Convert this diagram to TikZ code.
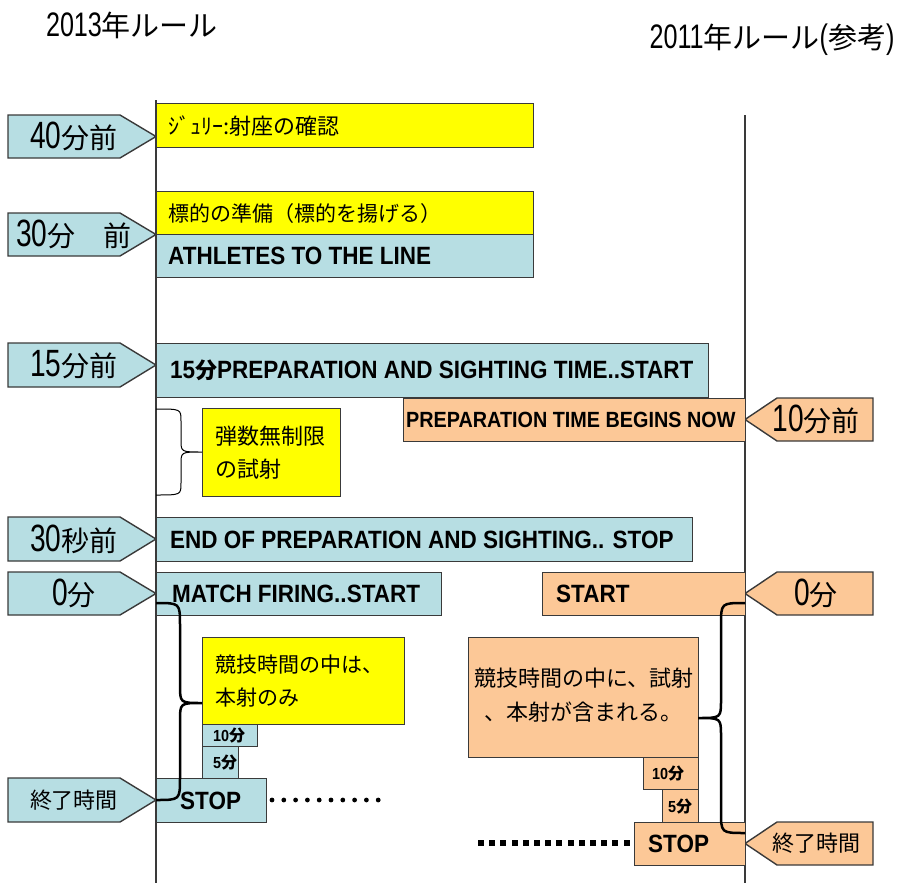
\documentclass[tikz,border=0pt]{standalone}
\usepackage{fontspec}
\setmainfont{Liberation Sans}[FakeStretch=0.9]
\newfontfamily\tallnum{Liberation Sans}[FakeStretch=0.74]
\newfontfamily\jp{Noto Sans CJK JP}
\usetikzlibrary{positioning}

\definecolor{lineblue}{HTML}{B7DEE3}
\definecolor{lineyellow}{HTML}{FFFF00}
\definecolor{lineorange}{HTML}{FCC897}
\definecolor{edge}{HTML}{3A3A3A}

% digits narrow and tall, kanji a bit smaller
\newcommand\numjp[2]{{\tallnum\fontsize{38}{38}\selectfont #1}{\jp\fontsize{28}{28}\selectfont #2}}

\tikzset{
  boxline/.style={draw=edge, line width=1.4pt, inner sep=0pt, anchor=north west},
  bluebox/.style={boxline, fill=lineblue},
  yellowbox/.style={boxline, fill=lineyellow},
  orangebox/.style={boxline, fill=lineorange},
  entext/.style={inner sep=0pt, font=\fontsize{25}{25}\selectfont\bfseries},
  jatext/.style={inner sep=0pt, font=\jp\fontsize{22}{33}\selectfont, align=left},
  tinyen/.style={inner sep=0pt, font=\fontsize{16}{16}\selectfont\bfseries},
  tagtext/.style={inner sep=0pt},
}

\newcommand\lefttag[4]{%
  \draw[draw=edge, line width=1.4pt, fill=lineblue]
    (8,#2) -- (120,#2) -- (156,{(#2+#3)/2}) -- (120,#3) -- (8,#3) -- cycle;
  \node[tagtext] (#1) at (74,{(#2+#3)/2}) {#4};}
\newcommand\righttag[4]{%
  \draw[draw=edge, line width=1.4pt, fill=lineorange]
    (873,#2) -- (777,#2) -- (745,{(#2+#3)/2}) -- (777,#3) -- (873,#3) -- cycle;
  \node[tagtext] (#1) at (816,{(#2+#3)/2}) {#4};}

\begin{document}
\begin{tikzpicture}[x=1pt,y=-1pt]
\useasboundingbox (0,0) rectangle (908,883);

% titles
\node (t13) at (132,25) {{\tallnum\fontsize{34}{34}\selectfont 2013}{\jp\fontsize{29}{29}\selectfont 年ルール}};
\node (t11) at (772,40) {{\tallnum\fontsize{34}{34}\selectfont 2011}{\jp\fontsize{29}{29}\selectfont 年ルール}{\tallnum\fontsize{34}{34}\selectfont (}{\jp\fontsize{29}{29}\selectfont 参考}{\tallnum\fontsize{34}{34}\selectfont )}};

% time axes
\coordinate (newtop) at (156,100);
\coordinate (newbot) at (156,883);
\coordinate (oldtop) at (745,115);
\coordinate (oldbot) at (745,883);
\draw[draw=edge, line width=1.5pt] (newtop) -- (newbot);
\draw[draw=edge, line width=1.5pt] (oldtop) -- (oldbot);

% 2013 rule
\lefttag{m40}{115}{158}{\numjp{40}{分前}}
\lefttag{m30}{213}{256}{\numjp{30}{分　前}}
\lefttag{m15}{343}{387}{\numjp{15}{分前}}
\lefttag{s30}{517}{561}{\numjp{30}{秒前}}
\lefttag{m0}{572}{615}{\numjp{0}{分}}
\lefttag{endl}{778}{822}{{\jp\fontsize{22}{22}\selectfont 終了時間}}

\node[yellowbox, minimum width=377pt, minimum height=44pt] (jury) at (156,103) {};
\node[jatext, right=12pt of jury.west] {ｼﾞｭﾘｰ:射座の確認};
\node[yellowbox, minimum width=377pt, minimum height=43pt] (target) at (156,191) {};
\node[jatext, font=\jp\fontsize{21}{21}\selectfont, right=12pt of target.west] {標的の準備（標的を揚げる）};
\node[bluebox, minimum width=377pt, minimum height=43pt] (athl) at (156,234) {};
\node[entext, right=12pt of athl.west] {ATHLETES TO THE LINE};
\node[bluebox, minimum width=552pt, minimum height=54pt] (sight) at (156,343) {};
\node[entext, right=14pt of sight.west] {15{\jp\fontsize{22}{22}\selectfont 分}PREPARATION AND SIGHTING TIME..START};
\node[yellowbox, minimum width=138pt, minimum height=88pt] (free) at (202,408) {};
\node[jatext, right=13pt of free.west] {弾数無制限\\の試射};
\node[bluebox, minimum width=536pt, minimum height=44pt] (endprep) at (156,517) {};
\node[entext, right=14pt of endprep.west] {END OF PREPARATION AND SIGHTING.. STOP};
\node[bluebox, minimum width=285pt, minimum height=43pt] (match) at (156,572) {};
\node[entext, right=16pt of match.west] {MATCH FIRING..START};
\node[yellowbox, minimum width=202pt, minimum height=87pt] (only) at (202,637) {};
\node[jatext, font=\jp\fontsize{21}{33}\selectfont, right=13pt of only.west] {競技時間の中は、\\本射のみ};
\node[bluebox, minimum width=55pt, minimum height=22pt] (ten) at (202,724) {};
\node[tinyen, right=11pt of ten.west] {10{\jp 分}};
\node[bluebox, minimum width=36pt, minimum height=32pt] (five) at (202,746) {};
\node[tinyen, right=11pt of five.west] {5{\jp 分}};
\node[bluebox, minimum width=110pt, minimum height=44pt] (stop) at (156,778) {};
\node[entext, right=24pt of stop.west] {STOP};

\foreach \i in {0,...,9}
  \fill ({272+\i*11.8},800) circle (2.4);

% 2011 rule
\righttag{m10r}{398}{441}{\numjp{10}{分前}}
\righttag{m0r}{572}{615}{\numjp{0}{分}}
\righttag{endr}{822}{865}{{\jp\fontsize{22}{22}\selectfont 終了時間}}

\node[orangebox, minimum width=342pt, minimum height=43pt] (begins) at (403,398) {};
\node[entext, font=\fontsize{22}{22}\selectfont\bfseries, right=3pt of begins.west] {PREPARATION TIME BEGINS NOW};
\node[orangebox, minimum width=203pt, minimum height=43pt] (start) at (542,572) {};
\node[entext, right=14pt of start.west] {START};
\node[orangebox, minimum width=230pt, minimum height=120pt] (both) at (468,637) {};
\node[jatext, align=center, font=\jp\fontsize{22}{34}\selectfont] at ([yshift=3pt]both.center) {競技時間の中に、試射\\、本射が含まれる。};
\node[orangebox, minimum width=55pt, minimum height=32pt] (tenr) at (643,757) {};
\node[tinyen, right=9pt of tenr.west] {10{\jp 分}};
\node[orangebox, minimum width=36pt, minimum height=33pt] (fiver) at (662,789) {};
\node[tinyen, right=6pt of fiver.west] {5{\jp 分}};
\node[orangebox, minimum width=111pt, minimum height=43pt] (stopr) at (634,822) {};
\node[entext, right=14pt of stopr.west] {STOP};

\foreach \i in {0,...,13}
  \fill ({478+\i*11.2},840) rectangle ++(6,6);

% braces
\draw[line width=1pt] (156,409) .. controls (181,409) .. (181,421) -- (181,440)
  .. controls (181,452) .. (202,452) .. controls (181,452) .. (181,464)
  -- (181,483) .. controls (181,495) .. (156,495);
\draw[line width=2.5pt] (156,603) .. controls (180,603) .. (180,625) -- (180,685)
  .. controls (180,703) .. (202,703) .. controls (180,703) .. (180,721)
  -- (180,778) .. controls (180,800) .. (156,800);
\draw[line width=2.5pt] (745,603) .. controls (721,603) .. (721,625) -- (721,700)
  .. controls (721,718) .. (698,718) .. controls (721,718) .. (721,736)
  -- (721,811) .. controls (721,833) .. (745,833);
\end{tikzpicture}
\end{document}
